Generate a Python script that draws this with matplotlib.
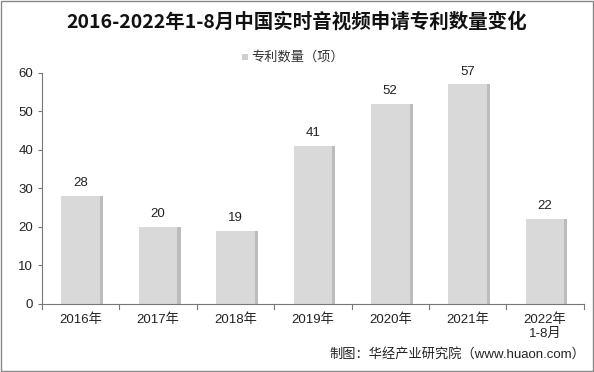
import matplotlib
matplotlib.use("Agg")
import matplotlib.pyplot as plt
from matplotlib.patches import Rectangle

plt.rcParams['font.family'] = ['Liberation Sans', 'Noto Sans CJK SC']

categories = ["2016年", "2017年", "2018年", "2019年", "2020年", "2021年", "2022年\n1-8月"]
values = [28, 20, 19, 41, 52, 57, 22]
series_name = "专利数量（项）"
title = "2016-2022年1-8月中国实时音视频申请专利数量变化"
source = "制图：华经产业研究院（www.huaon.com）"

fig = plt.figure(figsize=(5.94, 3.72), dpi=100)
ax = fig.add_axes([0.0707, 0.183, 0.912, 0.621])

x = list(range(len(categories)))
# shadow
ax.bar([i + 0.04 for i in x], values, width=0.5, color="#bcbcbc", zorder=1)
ax.bar(x, values, width=0.5, color="#d9d9d9", zorder=2, label=series_name)
for i, v in zip(x, values):
    ax.text(i, v + 1.8, str(v), ha="center", va="bottom", fontsize=9.5, color="#222222")

ax.set_xlim(-0.5, len(categories) - 0.5)
ax.set_ylim(0, 60)
ax.set_yticks(range(0, 61, 10))
ax.tick_params(axis='y', labelsize=9.5, length=3, direction='out', color="#777777", labelcolor="#222222")
ax.set_xticks(x)
ax.set_xticklabels(categories, fontsize=9.5, color="#222222")
ax.tick_params(axis='x', length=0, pad=7)
for b in [i - 0.5 for i in range(len(categories) + 1)]:
    ax.plot([b, b], [0, -1.3], color="#777777", lw=0.8, clip_on=False)
for s in ["top", "right"]:
    ax.spines[s].set_visible(False)
for s in ["left", "bottom"]:
    ax.spines[s].set_color("#777777")
    ax.spines[s].set_linewidth(0.8)

fig.text(0.5, 0.94, title, ha="center", va="center", fontsize=14, fontweight="bold",
         color="#111111", family=['Noto Sans CJK SC'])
# legend
fig.patches.append(Rectangle((0.407, 0.838), 0.0105, 0.018, transform=fig.transFigure,
                             facecolor="#cfcfcf", edgecolor="none"))
fig.text(0.423, 0.847, series_name, ha="left", va="center", fontsize=9.5, color="#333333",
         family=['Noto Sans CJK SC'])

fig.text(0.985, 0.048, source, ha="right", va="center", fontsize=9.5, color="#222222")

fig.patches.append(Rectangle((0.002, 0.003), 0.996, 0.994, transform=fig.transFigure,
                             facecolor="none", edgecolor="#888888", lw=1))

fig.savefig("out.png", dpi=100)
